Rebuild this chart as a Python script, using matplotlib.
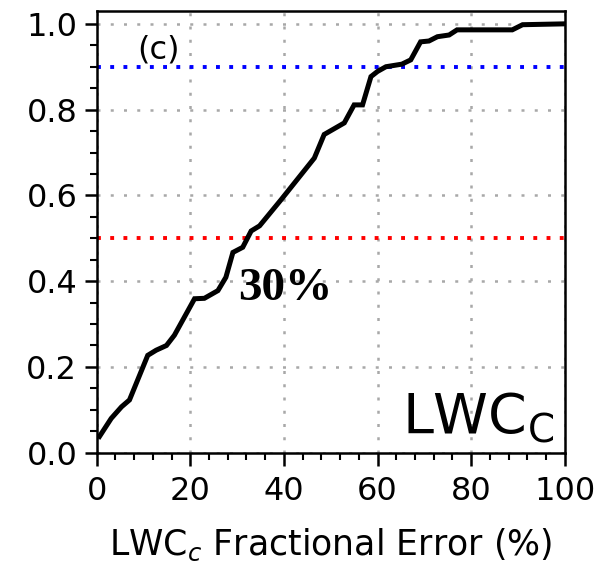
import matplotlib
matplotlib.use("Agg")
import matplotlib.pyplot as plt
from matplotlib.ticker import MultipleLocator

# CDF of fractional error
err = [0.6, 3.1, 5.3, 7.0, 10.9, 12.7, 14.9, 16.6, 20.9, 23.0, 25.9, 27.6,
       29.1, 31.2, 33.0, 34.8, 39.4, 46.5, 48.6, 52.9, 55.0, 56.8, 58.6, 60.0,
       61.8, 65.2, 67.1, 69.2, 71.0, 72.8, 75.3, 77.0, 88.8, 91.0, 100.0]
cdf = [0.038, 0.08, 0.107, 0.123, 0.227, 0.239, 0.25, 0.274, 0.359, 0.36,
       0.378, 0.409, 0.467, 0.479, 0.517, 0.529, 0.59, 0.687, 0.742, 0.769,
       0.811, 0.811, 0.877, 0.889, 0.9, 0.906, 0.916, 0.958, 0.96, 0.97,
       0.974, 0.986, 0.986, 0.998, 1.0]
ref_levels = [0.9, 0.5]
ref_colors = ["#0000ff", "#ff0000"]

fig = plt.figure(figsize=(6.03, 5.63), dpi=100)
ax = fig.add_axes([0.1604, 0.1959, 0.7761, 0.7846])

ax.plot(err, cdf, color="black", lw=3.6, zorder=3, solid_joinstyle="miter")
for lev, col in zip(ref_levels, ref_colors):
    ax.axhline(lev, color=col, lw=2.8, linestyle=(0, (1, 2.4)), zorder=2)

ax.set_xlim(0, 100)
ax.set_ylim(0, 1.03)
ax.xaxis.set_major_locator(MultipleLocator(20))
ax.xaxis.set_minor_locator(MultipleLocator(4))
ax.yaxis.set_major_locator(MultipleLocator(0.2))
ax.yaxis.set_minor_locator(MultipleLocator(0.05))
ax.yaxis.set_major_formatter(plt.FuncFormatter(lambda v, _: "{:.1f}".format(v)))

ax.grid(True, which="major", color="#a8a8a8", lw=1.8, linestyle=(0, (1.2, 4.1)))
ax.tick_params(which="major", direction="out", length=9, width=1.8,
               labelsize=23, pad=5)
ax.tick_params(axis="x", which="major", pad=8)
ax.tick_params(which="minor", direction="out", length=5, width=1.5)
for s in ax.spines.values():
    s.set_linewidth(1.8)

ax.set_xlabel("LWC$_c$ Fractional Error (%)", fontsize=25, labelpad=14)

ax.text(8.6, 0.94, "(c)", fontsize=23, va="center", ha="left")
ax.text(30.2, 0.357, "30%", fontsize=34, fontweight="bold",
        family="Liberation Serif", ha="left", va="baseline")
ax.text(97.8, 0.045, "LWC$_\\mathrm{C}$", fontsize=40, ha="right", va="baseline")

fig.savefig("out.png", dpi=100)
